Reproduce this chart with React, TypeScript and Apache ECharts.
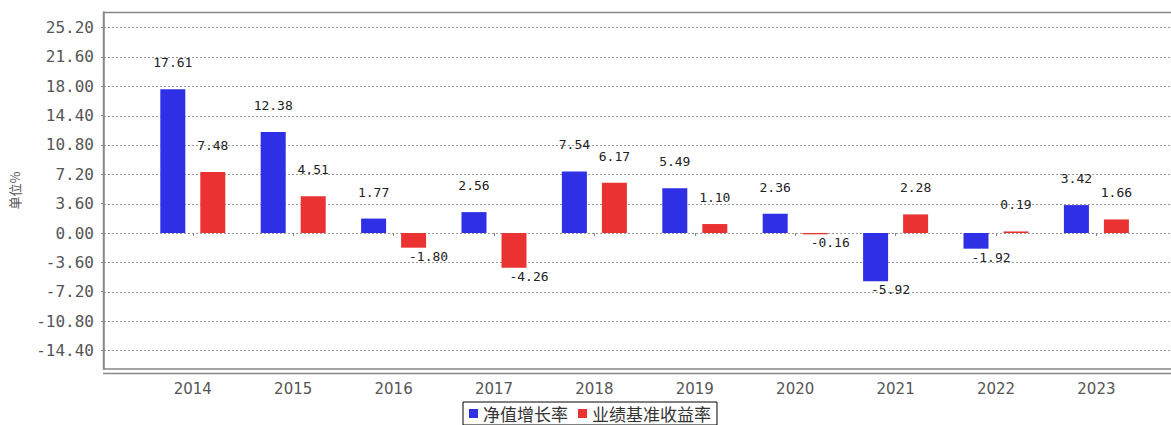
import React, { useEffect, useRef } from 'react';
import * as echarts from 'echarts';

const years = ['2014', '2015', '2016', '2017', '2018', '2019', '2020', '2021', '2022', '2023'];
const navGrowth = [17.61, 12.38, 1.77, 2.56, 7.54, 5.49, 2.36, -5.92, -1.92, 3.42];
const benchmark = [7.48, 4.51, -1.8, -4.26, 6.17, 1.1, -0.16, 2.28, 0.19, 1.66];
const seriesNames = ['净值增长率', '业绩基准收益率'];
const yTicks = [25.2, 21.6, 18, 14.4, 10.8, 7.2, 3.6, 0, -3.6, -7.2, -10.8, -14.4];
const yMin = -16.67;
const yMax = 27.09;
const yName = '单位%';

const W = 1171;
const H = 425;

function toItems(vals: number[]) {
  return vals.map((v) => ({
    value: v,
    label:
      v >= 0
        ? { position: 'top', distance: 20 }
        : { position: 'bottom', distance: 2, offset: [15, 0] },
  }));
}

export default function App() {
  const ref = useRef<HTMLDivElement>(null);
  useEffect(() => {
    if (!ref.current) return;
    const chart = echarts.init(ref.current, undefined, { renderer: 'svg', width: W, height: H });
    const labelStyle = {
      show: true,
      color: '#222',
      fontFamily: 'DejaVu Sans Mono',
      fontSize: 13,
      formatter: (p: any) => Number(p.value).toFixed(2),
    };
    chart.setOption({
      animation: false,
      backgroundColor: '#fff',
      grid: { left: 138.6, right: 24.4, top: 12, bottom: 56 },
      legend: {
        data: seriesNames,
        left: 463,
        top: 402,
        orient: 'horizontal',
        icon: 'rect',
        itemWidth: 9,
        itemHeight: 9,
        itemGap: 10,
        padding: [3, 6, 3, 6],
        borderColor: '#000',
        borderWidth: 1,
        textStyle: { fontSize: 17, color: '#333', fontFamily: 'Noto Sans CJK SC' },
      },
      xAxis: {
        type: 'category',
        data: years,
        offset: 4,
        axisLine: { show: false },
        axisTick: { show: true, alignWithLabel: true, length: 3, lineStyle: { color: '#888' } },
        axisLabel: { fontSize: 15, color: '#555', fontFamily: "'DejaVu Sans', Verdana, sans-serif", margin: 8 },
        splitLine: { show: false },
      },
      yAxis: {
        type: 'value',
        min: yMin,
        max: yMax,
        offset: 38.6,
        name: yName,
        nameLocation: 'middle',
        nameRotate: 90,
        nameGap: 83,
        nameTextStyle: { fontSize: 13, color: '#555', fontFamily: 'Noto Sans CJK SC' },
        axisLine: { show: true, lineStyle: { color: '#888', width: 1.5 } },
        axisTick: { show: true, customValues: yTicks, length: 3, lineStyle: { color: '#888' } },
        axisLabel: {
          customValues: yTicks,
          formatter: (v: number) => v.toFixed(2),
          fontFamily: 'DejaVu Sans Mono',
          fontSize: 16,
          color: '#555',
          margin: 10,
        },
        splitLine: { show: false },
      },
      series: [
        {
          name: seriesNames[0],
          type: 'bar',
          data: toItems(navGrowth),
          barWidth: 25,
          barGap: '60%',
          itemStyle: { color: '#2f2fe6' },
          label: labelStyle,
          z: 3,
        },
        {
          name: seriesNames[1],
          type: 'bar',
          data: toItems(benchmark),
          barWidth: 25,
          barGap: '60%',
          itemStyle: { color: '#ea3232' },
          label: labelStyle,
          z: 3,
        },
      ],
    });

    const gridLines = yTicks.map((v) => {
      const y = Math.round(chart.convertToPixel({ yAxisIndex: 0 }, v) as number) + 0.5;
      return {
        type: 'line',
        z: 0,
        silent: true,
        shape: { x1: 104, y1: y, x2: W, y2: y },
        style: { stroke: '#999', lineWidth: 1, lineDash: [2, 2] },
      };
    });
    chart.setOption({
      graphic: [
        {
          type: 'rect',
          z: 0,
          silent: true,
          shape: { x: 103.5, y: 12.5, width: 1200, height: 356.5 },
          style: { fill: 'none', stroke: '#888', lineWidth: 1.5 },
        },
        {
          type: 'line',
          z: 0,
          silent: true,
          shape: { x1: 103, y1: 373.5, x2: W, y2: 373.5 },
          style: { stroke: '#888', lineWidth: 1.5 },
        },
        ...gridLines,
      ],
    });

    return () => chart.dispose();
  }, []);
  return (
    <div
      ref={ref}
      style={{ position: 'fixed', left: 0, top: 0, width: W, height: H, background: '#fff' }}
    />
  );
}
